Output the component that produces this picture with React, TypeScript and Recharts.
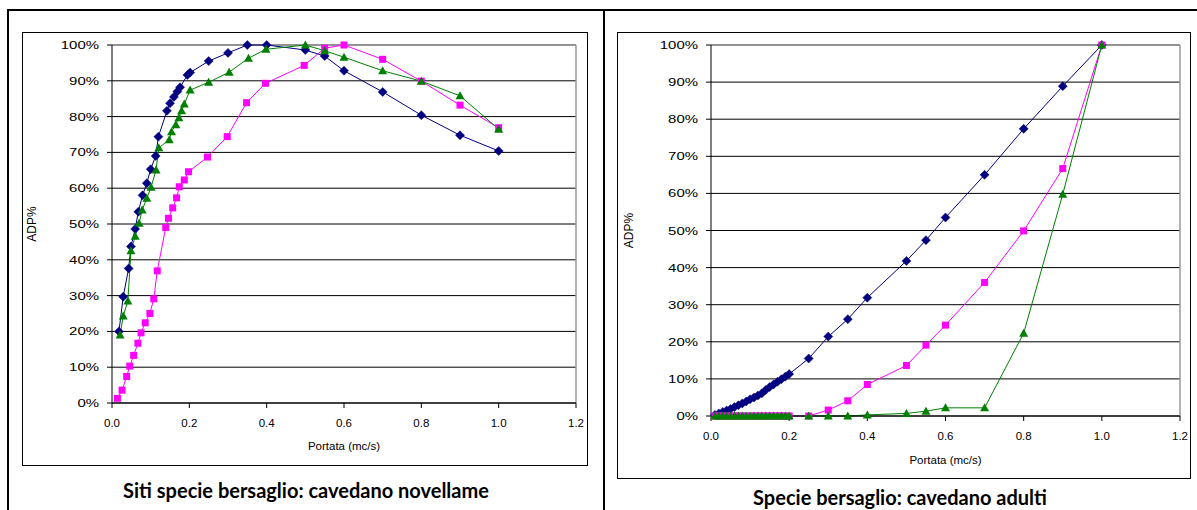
import { LineChart, Line, XAxis, YAxis, CartesianGrid, ReferenceLine, Label } from 'recharts'

// left chart: cavedano novellame (each series has its own flows)
const juvBlueX = [0.018, 0.029, 0.043, 0.049, 0.06, 0.068, 0.079, 0.09, 0.1, 0.113, 0.12, 0.142, 0.15, 0.16, 0.169, 0.176, 0.195, 0.202, 0.25, 0.3, 0.35, 0.4, 0.5, 0.55, 0.6, 0.7, 0.8, 0.9, 1.0]
const juvBlueY = [20, 29.7, 37.6, 43.7, 48.6, 53.4, 58, 61.4, 65.3, 69, 74.4, 81.6, 83.7, 85.5, 87, 88.2, 91.6, 92.3, 95.5, 97.8, 100, 100, 98.6, 96.9, 92.8, 86.9, 80.4, 74.8, 70.4]

const juvPinkX = [0.014, 0.026, 0.038, 0.046, 0.056, 0.067, 0.075, 0.086, 0.098, 0.108, 0.117, 0.139, 0.146, 0.157, 0.167, 0.174, 0.187, 0.198, 0.247, 0.298, 0.348, 0.397, 0.497, 0.55, 0.6, 0.7, 0.8, 0.9, 1.0]
const juvPinkY = [1.3, 3.6, 7.4, 10.3, 13.3, 16.7, 19.6, 22.4, 25, 29.1, 36.9, 49, 51.6, 54.5, 57.3, 60.4, 62.3, 64.6, 68.7, 74.4, 83.9, 89.3, 94.3, 99.1, 100, 96, 89.9, 83.2, 76.9]

const juvGreenX = [0.021, 0.029, 0.041, 0.049, 0.06, 0.07, 0.078, 0.09, 0.101, 0.114, 0.121, 0.148, 0.154, 0.165, 0.173, 0.18, 0.187, 0.202, 0.25, 0.303, 0.353, 0.398, 0.5, 0.55, 0.6, 0.7, 0.8, 0.9, 1.0]
const juvGreenY = [19, 24.3, 28.5, 42.5, 46.6, 50.2, 53.9, 57.2, 60.3, 65.1, 71.3, 73.5, 75.8, 77.7, 79.7, 81.6, 83.5, 87.4, 89.6, 92.4, 96.3, 98.8, 100, 98.4, 96.6, 92.8, 89.9, 85.8, 76.5]

// right chart: cavedano adulti (shared flows)
const adultX = [0.01, 0.02, 0.03, 0.04, 0.05, 0.06, 0.07, 0.08, 0.09, 0.1, 0.11, 0.12, 0.13, 0.14, 0.15, 0.16, 0.17, 0.18, 0.19, 0.2, 0.25, 0.3, 0.35, 0.4, 0.5, 0.55, 0.6, 0.7, 0.8, 0.9, 1.0]
const adultBlue = [0.3, 0.7, 1.1, 1.5, 1.9, 2.4, 2.9, 3.4, 3.9, 4.5, 5.0, 5.5, 6.1, 7.0, 7.8, 8.5, 9.2, 9.9, 10.6, 11.3, 15.5, 21.4, 26.1, 31.9, 41.8, 47.4, 53.5, 65, 77.4, 88.9, 100]
const adultPink = [0, 0, 0, 0, 0, 0, 0, 0, 0, 0, 0, 0, 0, 0, 0, 0, 0, 0, 0, 0, 0, 1.6, 4.1, 8.5, 13.6, 19.1, 24.5, 36, 49.9, 66.7, 100]
const adultGreen = [0, 0, 0, 0, 0, 0, 0, 0, 0, 0, 0, 0, 0, 0, 0, 0, 0, 0, 0, 0, 0, 0, 0, 0.3, 0.7, 1.3, 2.2, 2.2, 22.3, 59.8, 100]

const xTicks = [0, 0.2, 0.4, 0.6, 0.8, 1.0, 1.2]
const yTicks = [0, 10, 20, 30, 40, 50, 60, 70, 80, 90, 100]

const zip = (xs: number[], ys: number[]) => xs.map((x, i) => ({ x, y: ys[i] }))

const NAVY = '#000080'
const PINK = '#FF00FF'
const GREEN = '#008000'
const FONT = '"Liberation Sans", Arial, sans-serif'

const diamond = (p: any) => {
  const { cx, cy, index } = p
  if (cx == null || cy == null) return <g key={`dm-${index}`} />
  return <path key={`dm-${index}`} d={`M${cx},${cy - 4.5}L${cx + 4.5},${cy}L${cx},${cy + 4.5}L${cx - 4.5},${cy}Z`} fill={NAVY} stroke={NAVY} strokeWidth={0.5} />
}
const square = (p: any) => {
  const { cx, cy, index } = p
  if (cx == null || cy == null) return <g key={`sq-${index}`} />
  return <rect key={`sq-${index}`} x={cx - 3.5} y={cy - 3.5} width={7} height={7} fill={PINK} />
}
const triangle = (p: any) => {
  const { cx, cy, index } = p
  if (cx == null || cy == null) return <g key={`tr-${index}`} />
  return <path key={`tr-${index}`} d={`M${cx},${cy - 4.5}L${cx + 4.5},${cy + 3.5}L${cx - 4.5},${cy + 3.5}Z`} fill={GREEN} />
}

const YTick = (p: any) => {
  const { x, y, payload } = p
  return (
    <text x={x} y={y} dy="0.35em" textAnchor="end" fontSize={11.5} fontFamily={FONT} fill="#000"
      transform={`translate(${x},0) scale(1.3,1) translate(${-x},0)`}>
      {payload.value}%
    </text>
  )
}

const XTick = (p: any) => {
  const { x, y, payload } = p
  return (
    <text x={x} y={y} dy="0.71em" textAnchor="middle" fontSize={11.5} fontFamily={FONT} fill="#000">
      {Number(payload.value).toFixed(1)}
    </text>
  )
}

interface PanelProps {
  width: number
  height: number
  margin: { top: number; right: number; bottom: number; left: number }
  blue: { x: number; y: number }[]
  pink: { x: number; y: number }[]
  green: { x: number; y: number }[]
  yTitleX: number
  xTitleY: number
}

function Panel({ width, height, margin, blue, pink, green, yTitleX, xTitleY }: PanelProps) {
  return (
    <LineChart width={width} height={height} margin={margin}>
      <CartesianGrid horizontal vertical={false} stroke="#000" strokeWidth={1} />
      <XAxis type="number" dataKey="x" domain={[0, 1.2]} ticks={xTicks} height={50}
        axisLine={{ stroke: '#000' }} tickLine={{ stroke: '#000' }} tickSize={5} tickMargin={11} tick={<XTick />}>
        <Label content={(lp: any) => {
          const vb = lp.viewBox
          return <text x={vb.x + vb.width / 2} y={xTitleY} textAnchor="middle" fontSize={11.5} fontFamily={FONT} fill="#000">Portata (mc/s)</text>
        }} />
      </XAxis>
      <YAxis type="number" domain={[0, 100]} ticks={yTicks} width={60} interval={0}
        axisLine={{ stroke: '#000' }} tickLine={{ stroke: '#000' }} tickSize={5} tickMargin={8} tick={<YTick />}>
        <Label content={(lp: any) => {
          const vb = lp.viewBox
          const cy = vb.y + vb.height / 2
          return <text x={yTitleX} y={cy} textAnchor="middle" fontSize={12} fontFamily={FONT} fill="#000"
            transform={`rotate(-90 ${yTitleX} ${cy})`}>ADP%</text>
        }} />
      </YAxis>
      <ReferenceLine y={100} stroke="#999" strokeWidth={1.5} />
      <ReferenceLine x={1.2} stroke="#999" strokeWidth={1.5} />
      <Line data={blue} dataKey="y" stroke={NAVY} strokeWidth={1} dot={diamond} activeDot={false} isAnimationActive={false} />
      <Line data={pink} dataKey="y" stroke={PINK} strokeWidth={1} dot={square} activeDot={false} isAnimationActive={false} />
      <Line data={green} dataKey="y" stroke={GREEN} strokeWidth={1} dot={triangle} activeDot={false} isAnimationActive={false} />
    </LineChart>
  )
}

const titleStyle: React.CSSProperties = {
  position: 'absolute', fontFamily: 'Lato, "Open Sans", sans-serif', fontWeight: 700, fontSize: 20,
  lineHeight: '24px', textAlign: 'center', color: '#000', whiteSpace: 'nowrap',
}

export default function App() {
  return (
    <div style={{ position: 'absolute', left: 0, top: 0, width: 1197, height: 510, background: '#fff', overflow: 'hidden' }}>
      {/* table frame */}
      <div style={{ position: 'absolute', left: 7, top: 9, width: 1200, height: 2, background: '#000' }} />
      <div style={{ position: 'absolute', left: 7, top: 9, width: 2, height: 510, background: '#000' }} />
      <div style={{ position: 'absolute', left: 603, top: 9, width: 2, height: 510, background: '#000' }} />

      {/* left chart */}
      <div style={{ position: 'absolute', left: 22, top: 32, width: 566, height: 434, boxSizing: 'border-box', border: '1px solid #000' }} />
      <div style={{ position: 'absolute', left: 22, top: 32 }}>
        <Panel width={566} height={434} margin={{ top: 13, right: 12, bottom: 13, left: 30 }}
          blue={zip(juvBlueX, juvBlueY)} pink={zip(juvPinkX, juvPinkY)} green={zip(juvGreenX, juvGreenY)}
          yTitleX={14} xTitleY={418} />
      </div>
      <div style={{ ...titleStyle, left: 106, width: 400, top: 478 }}>Siti specie bersaglio: cavedano novellame</div>

      {/* right chart */}
      <div style={{ position: 'absolute', left: 617, top: 32, width: 574, height: 447, boxSizing: 'border-box', border: '1px solid #000' }} />
      <div style={{ position: 'absolute', left: 617, top: 32 }}>
        <Panel width={574} height={447} margin={{ top: 13, right: 11, bottom: 13, left: 34 }}
          blue={zip(adultX, adultBlue)} pink={zip(adultX, adultPink)} green={zip(adultX, adultGreen)}
          yTitleX={16} xTitleY={432} />
      </div>
      <div style={{ ...titleStyle, left: 700, width: 400, top: 485 }}>Specie bersaglio: cavedano adulti</div>
    </div>
  )
}
